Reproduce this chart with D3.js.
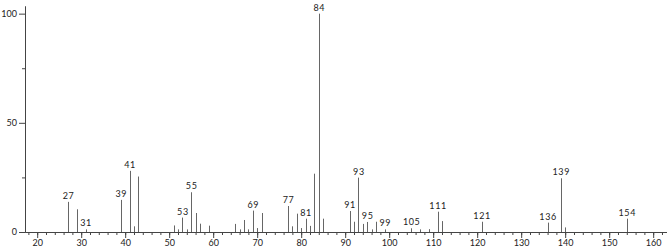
<!DOCTYPE html>
<html lang="en">
<head>
    <style>
        body { margin: 0; background: #fff; }
        text { font-family: Lato, "DejaVu Sans", sans-serif; }
        .peak { stroke: #666; stroke-width: 1; }
        .lbl { font-size: 9px; fill: #222; letter-spacing: 0.6px; }
        .axis path, .axis line { stroke: #444; }
        .axis text { font-size: 9px; fill: #222; font-family: Lato, sans-serif; }
    </style>
    <script src="https://d3js.org/d3.v7.min.js"></script>
</head>
<body>
<script>
    var width = 667, height = 249;

    // m/z values and relative intensities
    var mz = [27, 29, 31, 39, 41, 42, 43, 51, 52, 53, 54, 55, 56, 57, 59,
              65, 66, 67, 68, 69, 70, 71, 77, 78, 79, 80, 81, 82, 83, 84, 85,
              91, 92, 93, 94, 95, 96, 97, 99, 105, 107, 109, 111, 112,
              121, 136, 139, 140, 154];
    var intensity = [13.8, 10.4, 1.2, 14.7, 28, 2.6, 25.4, 3, 1.2, 6.6, 1.2, 18.2, 8.7, 3.8, 2.9,
                     3.7, 1.2, 5.5, 1.2, 9.8, 1.8, 8.7, 11.9, 2.6, 8.4, 1.8, 6.1, 2.8, 26.7, 100, 6.1,
                     9.6, 4.7, 24.9, 3.7, 4.6, 1.2, 4.7, 1.2, 1.7, 1.2, 1.3, 9.3, 5,
                     4.7, 4.3, 24.6, 2.1, 6.1];
    // peaks that carry an m/z label
    var labelled = [27, 31, 39, 41, 53, 55, 69, 77, 81, 84, 91, 93, 95, 99, 105, 111, 121, 136, 139, 154];

    var xMajor = d3.range(20, 161, 10);
    var xMinor = d3.range(18, 164, 2);
    var yMajor = [0, 50, 100];
    var yMinor = [25, 75];

    var peaks = [];
    for (var i = 0; i < mz.length; i++) {
        peaks.push({mz: mz[i], y: intensity[i]});
    }

    var svg = d3.select("body").append("svg")
                .attr("width", width)
                .attr("height", height);

    var x = d3.scaleLinear().domain([17.23, 163.14]).range([25, 667]);
    var y = d3.scaleLinear().domain([0, 103.5]).range([232, 6]);

    // minor ticks first, then the labelled axes on top
    svg.append("g").attr("class", "axis")
       .attr("transform", "translate(0,232)")
       .call(d3.axisBottom(x).tickValues(xMinor).tickSize(3).tickSizeOuter(0).tickFormat(""));

    svg.append("g").attr("class", "axis")
       .attr("transform", "translate(0,232)")
       .call(d3.axisBottom(x).tickValues(xMajor).tickSize(6).tickSizeOuter(0).tickPadding(2));

    svg.append("g").attr("class", "axis")
       .attr("transform", "translate(25,0)")
       .call(d3.axisLeft(y).tickValues(yMinor).tickSize(3).tickSizeOuter(0).tickFormat(""));

    svg.append("g").attr("class", "axis")
       .attr("transform", "translate(25,0)")
       .call(d3.axisLeft(y).tickValues(yMajor).tickSize(6).tickSizeOuter(0).tickPadding(2));

    svg.selectAll(".peak")
       .data(peaks)
       .enter().append("line")
       .attr("class", "peak")
       .attr("x1", function(d) { return Math.round(x(d.mz)) + 0.5; })
       .attr("x2", function(d) { return Math.round(x(d.mz)) + 0.5; })
       .attr("y1", y(0))
       .attr("y2", function(d) { return y(d.y); });

    svg.selectAll(".lbl")
       .data(peaks.filter(function(d) { return labelled.indexOf(d.mz) >= 0; }))
       .enter().append("text")
       .attr("class", "lbl")
       .attr("text-anchor", "middle")
       .attr("x", function(d) { return x(d.mz) + 0.5; })
       .attr("y", function(d) { return y(d.y) - 3; })
       .text(function(d) { return d.mz; });
</script>
</body>
</html>
